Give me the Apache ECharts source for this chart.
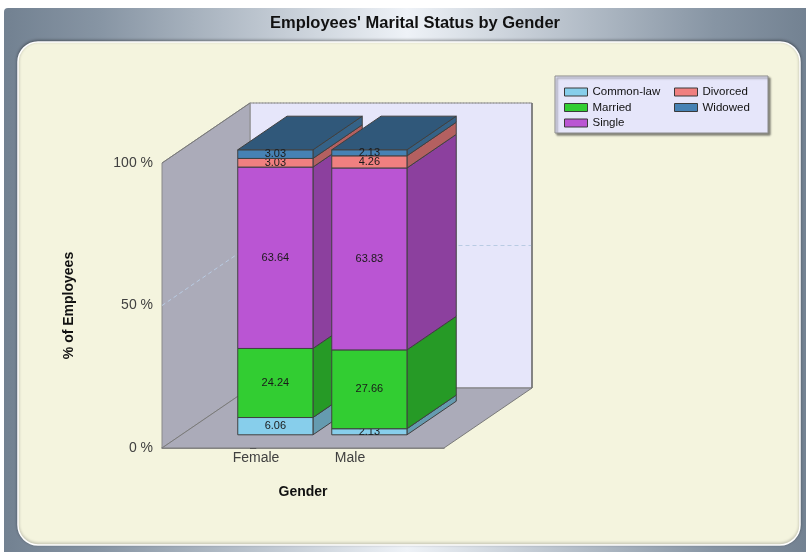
<!DOCTYPE html>
<html>
<head>
<meta charset="utf-8">
<script src="https://cdn.jsdelivr.net/npm/echarts@6/dist/echarts.min.js"></script>
<style>
  html, body { margin: 0; padding: 0; background: #ffffff; }
  #chart { width: 806px; height: 557px; }
</style>
</head>
<body>
<div id="chart"></div>
<script>
// Categories and stacked percentages (bottom to top)
const genders = ['Female', 'Male'];
const statuses = ['Common-law', 'Married', 'Single', 'Divorced', 'Widowed'];
const commonLaw = [6.06, 2.13];
const married = [24.24, 27.66];
const single = [63.64, 63.83];
const divorced = [3.03, 4.26];
const widowed = [3.03, 2.13];
const yTicks = [0, 50, 100];

const statusValues = [commonLaw, married, single, divorced, widowed];
const colors = ['#87CEEB', '#32CD32', '#BA55D3', '#F08080', '#4682B4'];

// Pseudo-3D geometry (pixels / fractions)
const DEPTH_X = 88, DEPTH_Y = -60;      // depth of the wall box
const BAR_FRONT = 0.22, BAR_BACK = 0.78; // bar depth range within the box
const BAR_WIDTH = 0.8;                   // bar width in category units
const X_MIN = -1, X_MAX = genders.length;
const Y_MAX = yTicks[yTicks.length - 1];

function shade(hex, k) {
  const n = parseInt(hex.slice(1), 16);
  const r = Math.round(((n >> 16) & 255) * k);
  const g = Math.round(((n >> 8) & 255) * k);
  const b = Math.round((n & 255) * k);
  return 'rgb(' + r + ',' + g + ',' + b + ')';
}
function shift(p, f) {
  return [p[0] + DEPTH_X * f, p[1] + DEPTH_Y * f];
}

// Back wall, left wall, floor and the wall gridlines
function renderWalls(params, api) {
  const p00 = api.coord([X_MIN, 0]);
  const p10 = api.coord([X_MAX, 0]);
  const p01 = api.coord([X_MIN, Y_MAX]);
  const p11 = api.coord([X_MAX, Y_MAX]);
  const children = [
    { type: 'polygon', shape: { points: [shift(p00, 1), shift(p10, 1), shift(p11, 1), shift(p01, 1)] },
      style: { fill: '#E6E6FA', stroke: '#8a8a8a', lineWidth: 1 } },
    { type: 'polygon', shape: { points: [p00, p01, shift(p01, 1), shift(p00, 1)] },
      style: { fill: '#ABABB9', stroke: '#8a8a8a', lineWidth: 1 } },
    { type: 'polygon', shape: { points: [p00, p10, shift(p10, 1), shift(p00, 1)] },
      style: { fill: '#ABABB9', stroke: '#7a7a7a', lineWidth: 1 } }
  ];
  yTicks.forEach(function (t) {
    if (t === 0) return;
    const a = api.coord([X_MIN, t]);
    const b = api.coord([X_MAX, t]);
    const top = t === Y_MAX;
    children.push({
      type: 'polyline',
      shape: { points: top ? [shift(a, 1), shift(b, 1)] : [a, shift(a, 1), shift(b, 1)] },
      style: { fill: null, stroke: top ? '#9a9a9a' : '#B9CBE3', lineWidth: 1, lineDash: top ? [1, 2] : [4, 3] }
    });
  });
  // right edge of the back wall
  children.push({ type: 'line', shape: { x1: shift(p10, 1)[0], y1: shift(p10, 1)[1], x2: shift(p11, 1)[0], y2: shift(p11, 1)[1] },
    style: { stroke: '#707070', lineWidth: 1.5 } });
  // top edge of the left wall
  children.push({ type: 'line', shape: { x1: p01[0], y1: p01[1], x2: shift(p01, 1)[0], y2: shift(p01, 1)[1] },
    style: { stroke: '#7a7a7a', lineWidth: 1 } });
  return { type: 'group', children: children };
}

// One stacked box segment: front, side, and top (for the topmost segment)
function makeBarRenderer(sIdx) {
  const col = colors[sIdx];
  const isLast = sIdx === statuses.length - 1;
  return function (params, api) {
    const cat = api.value(0), base = api.value(1), top = api.value(2), val = api.value(3);
    const bl = shift(api.coord([cat - BAR_WIDTH / 2, base]), BAR_FRONT);
    const br = shift(api.coord([cat + BAR_WIDTH / 2, base]), BAR_FRONT);
    const tl = shift(api.coord([cat - BAR_WIDTH / 2, top]), BAR_FRONT);
    const tr = shift(api.coord([cat + BAR_WIDTH / 2, top]), BAR_FRONT);
    const d = BAR_BACK - BAR_FRONT;
    const stroke = '#404040';
    const children = [
      { type: 'polygon', shape: { points: [br, tr, shift(tr, d), shift(br, d)] },
        style: { fill: shade(col, 0.75), stroke: stroke, lineWidth: 1 } },
      { type: 'polygon', shape: { points: [bl, br, tr, tl] },
        style: { fill: col, stroke: stroke, lineWidth: 1 } }
    ];
    if (isLast) {
      children.push({ type: 'polygon', shape: { points: [tl, tr, shift(tr, d), shift(tl, d)] },
        style: { fill: shade(col, 0.68), stroke: stroke, lineWidth: 1 } });
    }
    children.push({
      type: 'text',
      style: {
        text: val.toFixed(2), x: (bl[0] + br[0]) / 2, y: (bl[1] + tl[1]) / 2,
        align: 'center', verticalAlign: 'middle',
        fontSize: 11, fontFamily: 'Liberation Sans', fill: '#1a1a1a'
      }
    });
    return { type: 'group', children: children };
  };
}

// Cumulative stacking
const cumulative = genders.map(function () { return 0; });
const barSeries = statuses.map(function (name, s) {
  const data = genders.map(function (g, i) {
    const v = statusValues[s][i];
    const item = [i, cumulative[i], cumulative[i] + v, v];
    cumulative[i] += v;
    return item;
  });
  return {
    name: name,
    type: 'custom',
    renderItem: makeBarRenderer(s),
    itemStyle: { color: colors[s] },
    encode: { x: 0, y: [1, 2] },
    data: data,
    z: 3
  };
});

const chart = echarts.init(document.getElementById('chart'), null, { renderer: 'canvas' });
chart.setOption({
  animation: false,
  backgroundColor: '#ffffff',
  textStyle: { fontFamily: 'Liberation Sans' },
  title: {
    text: "Employees' Marital Status by Gender",
    left: 415, top: 15, textAlign: 'center', padding: 0,
    textStyle: { fontSize: 16.5, fontWeight: 'bold', color: '#111111', fontFamily: 'Liberation Sans' }
  },
  graphic: [
    { type: 'rect', z: -2, shape: { x: 4, y: 8, width: 806, height: 544, r: [4, 4, 0, 0] },
      style: { fill: new echarts.graphic.LinearGradient(0, 0, 1, 0, [
        { offset: 0, color: '#728191' }, { offset: 0.12, color: '#8795a4' },
        { offset: 0.5, color: '#eef2f7' }, { offset: 0.88, color: '#8795a4' }, { offset: 1, color: '#728191' }]) } },
    { type: 'rect', z: -1, shape: { x: 18, y: 42, width: 782, height: 503, r: 20 },
      style: { fill: '#F4F4DE', stroke: '#ffffff', lineWidth: 1.5,
        shadowColor: 'rgba(0,0,0,0.35)', shadowBlur: 3, shadowOffsetY: -1 } },
    { type: 'rect', z: 1, shape: { x: 555, y: 76, width: 213, height: 57 },
      style: { fill: '#E6E6FA', stroke: '#8c8c8c', lineWidth: 1,
        shadowColor: 'rgba(0,0,0,0.45)', shadowBlur: 2, shadowOffsetX: 2, shadowOffsetY: 2 } }
  ],
  legend: [
    { data: ['Common-law', 'Married', 'Single'], orient: 'vertical', left: 564, top: 86, padding: 0,
      itemWidth: 23, itemHeight: 8, itemGap: 3.5, icon: 'rect',
      itemStyle: { borderColor: '#3a3a3a', borderWidth: 1 },
      textStyle: { fontSize: 11.5, color: '#111', lineHeight: 12, fontFamily: 'Liberation Sans' } },
    { data: ['Divorced', 'Widowed'], orient: 'vertical', left: 674, top: 86, padding: 0,
      itemWidth: 23, itemHeight: 8, itemGap: 3.5, icon: 'rect',
      itemStyle: { borderColor: '#3a3a3a', borderWidth: 1 },
      textStyle: { fontSize: 11.5, color: '#111', lineHeight: 12, fontFamily: 'Liberation Sans' } }
  ],
  grid: { left: 162, top: 163, width: 282, height: 285 },
  xAxis: {
    type: 'value', min: X_MIN, max: X_MAX, interval: 1,
    axisLine: { show: true, lineStyle: { color: '#6e6e6e', width: 1.5 } },
    axisTick: { show: false },
    splitLine: { show: false },
    axisLabel: { fontSize: 14, color: '#404040', margin: 3,
      formatter: function (v) { return genders[v] !== undefined ? genders[v] : ''; } },
    name: 'Gender', nameLocation: 'middle', nameGap: 37,
    nameTextStyle: { fontSize: 14, fontWeight: 'bold', color: '#111' }
  },
  yAxis: {
    type: 'value', min: 0, max: Y_MAX, interval: 50,
    axisLine: { show: true, lineStyle: { color: '#6e6e6e', width: 2 } },
    axisTick: { show: true, length: 6, lineStyle: { color: '#333' } },
    splitLine: { show: false },
    axisLabel: { fontSize: 14, color: '#404040', margin: 9, formatter: '{value} %' },
    name: '% of Employees', nameLocation: 'middle', nameGap: 86, nameRotate: 90,
    nameTextStyle: { fontSize: 14, fontWeight: 'bold', color: '#111' }
  },
  series: [{
    type: 'custom', name: 'walls', renderItem: renderWalls, silent: true,
    data: [[0, 0]], encode: { x: 0, y: 1 }, z: 1
  }].concat(barSeries)
});
</script>
</body>
</html>
